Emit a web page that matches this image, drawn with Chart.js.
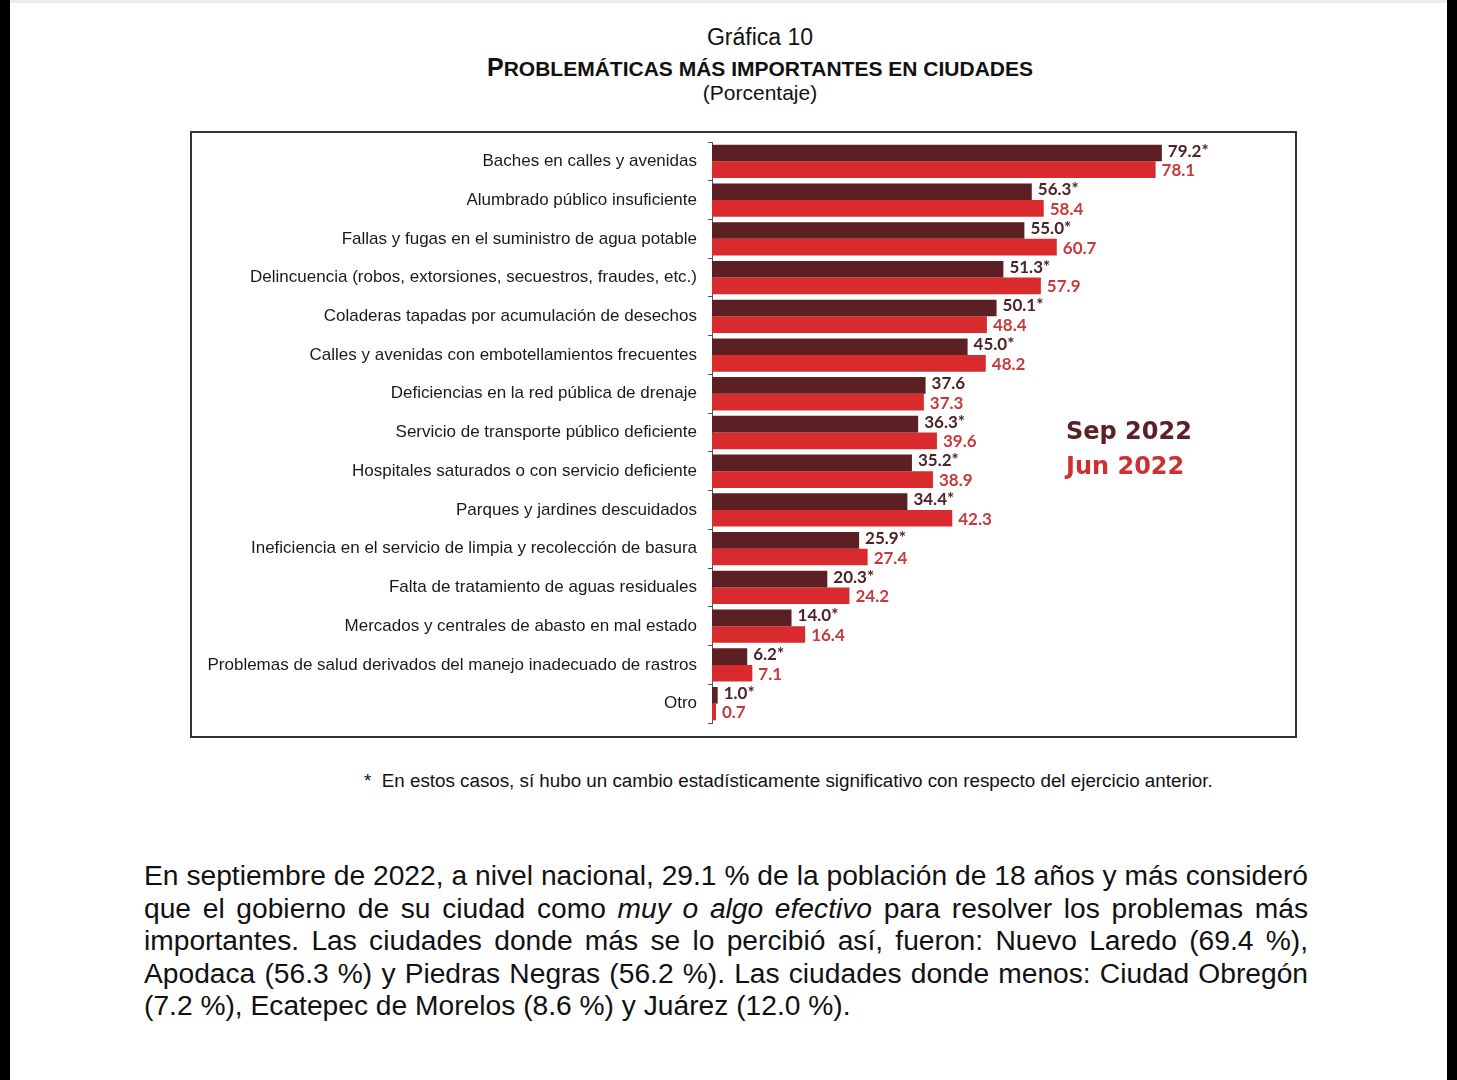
<!DOCTYPE html>
<html lang="es">
<head>
<meta charset="utf-8">
<script src="https://cdn.jsdelivr.net/npm/chart.js@4.4.1/dist/chart.umd.min.js"></script>
<style>
  body { margin: 0; background: #fff; width: 1457px; height: 1080px; position: relative; overflow: hidden;
         font-family: "Liberation Sans", Arial, sans-serif; color: #111; }
  .strip-l { position: absolute; left: 0; top: 0; width: 10px; height: 1080px; background: #000; }
  .strip-r { position: absolute; left: 1447px; top: 0; width: 10px; height: 1080px; background: #000; }
  .strip-t { position: absolute; left: 10px; top: 0; width: 1437px; height: 3px; background: #ececec; }
  .t1 { position: absolute; top: 24px; left: 0; width: 1520px; text-align: center; font-size: 23px; }
  .t2 { position: absolute; top: 53px; left: 0; width: 1520px; text-align: center; font-size: 25px; font-weight: bold; }
  .t2 .s { font-size: 21px; }
  .t3 { position: absolute; top: 81px; left: 0; width: 1520px; text-align: center; font-size: 21px; }
  #box { position: absolute; left: 190px; top: 131px; width: 1103px; height: 603px; border: 2px solid #333; }
  .leg { position: absolute; left: 1066px; font-family: "DejaVu Sans", sans-serif; font-weight: bold; font-size: 24px; }
  .note { position: absolute; top: 770px; left: 364px; font-size: 18.8px; color: #111; }
  .para { position: absolute; top: 859px; left: 144px; width: 1164px; font-size: 28.2px; line-height: 32.5px; color: #111; }
  .para div { text-align: justify; text-align-last: justify; white-space: nowrap; }
  .para div.last { text-align-last: left; }
</style>
</head>
<body>
<div class="strip-l"></div><div class="strip-r"></div><div class="strip-t"></div>
<div class="t1">Gráfica 10</div>
<div class="t2">P<span class="s">ROBLEMÁTICAS MÁS IMPORTANTES EN CIUDADES</span></div>
<div class="t3">(Porcentaje)</div>
<div id="box"><canvas id="myChart" width="1103" height="603"></canvas></div>
<div class="leg" style="top:417px;color:#5a2226;">Sep 2022</div>
<div class="leg" style="top:452px;color:#cc3030;">Jun 2022</div>
<div class="note">*&nbsp;&nbsp;En estos casos, sí hubo un cambio estadísticamente significativo con respecto del ejercicio anterior.</div>
<div class="para">
  <div>En septiembre de 2022, a nivel nacional, 29.1 % de la población de 18 años y más consideró</div>
  <div>que el gobierno de su ciudad como <i>muy o algo efectivo</i> para resolver los problemas más</div>
  <div>importantes. Las ciudades donde más se lo percibió así, fueron: Nuevo Laredo (69.4 %),</div>
  <div>Apodaca (56.3 %) y Piedras Negras (56.2 %). Las ciudades donde menos: Ciudad Obregón</div>
  <div class="last">(7.2 %), Ecatepec de Morelos (8.6 %) y Juárez (12.0 %).</div>
</div>
<script>
const categories = [
    'Baches en calles y avenidas',
    'Alumbrado público insuficiente',
    'Fallas y fugas en el suministro de agua potable',
    'Delincuencia (robos, extorsiones, secuestros, fraudes, etc.)',
    'Coladeras tapadas por acumulación de desechos',
    'Calles y avenidas con embotellamientos frecuentes',
    'Deficiencias en la red pública de drenaje',
    'Servicio de transporte público deficiente',
    'Hospitales saturados o con servicio deficiente',
    'Parques y jardines descuidados',
    'Ineficiencia en el servicio de limpia y recolección de basura',
    'Falta de tratamiento de aguas residuales',
    'Mercados y centrales de abasto en mal estado',
    'Problemas de salud derivados del manejo inadecuado de rastros',
    'Otro'
];
const sep2022 = [79.2, 56.3, 55.0, 51.3, 50.1, 45.0, 37.6, 36.3, 35.2, 34.4, 25.9, 20.3, 14.0, 6.2, 1.0];
const jun2022 = [78.1, 58.4, 60.7, 57.9, 48.4, 48.2, 37.3, 39.6, 38.9, 42.3, 27.4, 24.2, 16.4, 7.1, 0.7];
// cambio significativo (lleva asterisco)
const sepSignif = [true, true, true, true, true, true, false, true, true, true, true, true, true, true, true];

const valueLabels = {
    id: 'valueLabels',
    afterDatasetsDraw(chart) {
        const ctx = chart.ctx;
        ctx.save();
        ctx.font = 'bold 17px Lato, "Open Sans", sans-serif';
        ctx.textBaseline = 'middle';
        ctx.textAlign = 'left';
        chart.data.datasets.forEach((ds, di) => {
            const meta = chart.getDatasetMeta(di);
            ctx.fillStyle = di === 0 ? '#4e2226' : '#c63a3c';
            meta.data.forEach((bar, i) => {
                let txt = ds.data[i].toFixed(1);
                if (di === 0 && sepSignif[i]) txt += '*';
                ctx.fillText(txt, bar.x + 6, di === 0 ? bar.y - 2 : bar.y + 1);
            });
        });
        ctx.restore();
    }
};

const ctx = document.getElementById('myChart').getContext('2d');
const myChart = new Chart(ctx, {
    type: 'bar',
    data: {
        labels: categories,
        datasets: [{
            label: 'Sep 2022',
            data: sep2022,
            backgroundColor: '#5c1f23',
            categoryPercentage: 0.86,
            barPercentage: 1.0
        }, {
            label: 'Jun 2022',
            data: jun2022,
            backgroundColor: '#d92b2e',
            categoryPercentage: 0.86,
            barPercentage: 1.0
        }]
    },
    options: {
        indexAxis: 'y',
        responsive: false,
        animation: false,
        layout: { padding: { top: 9, bottom: 13, right: 15, left: 0 } },
        scales: {
            x: { display: false, min: 0, max: 100 },
            y: {
                afterFit(scale) {
                    scale.width = 520;
                    scale.paddingTop = 0;
                    scale.paddingBottom = 0;
                },
                ticks: {
                    color: '#1a1a1a',
                    padding: 11,
                    font: { family: '"Liberation Sans", Arial, sans-serif', size: 17 }
                },
                grid: { drawOnChartArea: false, drawTicks: true, tickLength: 4, color: '#555' },
                border: { display: true, color: '#555', width: 1 }
            }
        },
        plugins: {
            legend: { display: false },
            tooltip: { enabled: false }
        }
    },
    plugins: [valueLabels]
});
</script>
</body>
</html>
